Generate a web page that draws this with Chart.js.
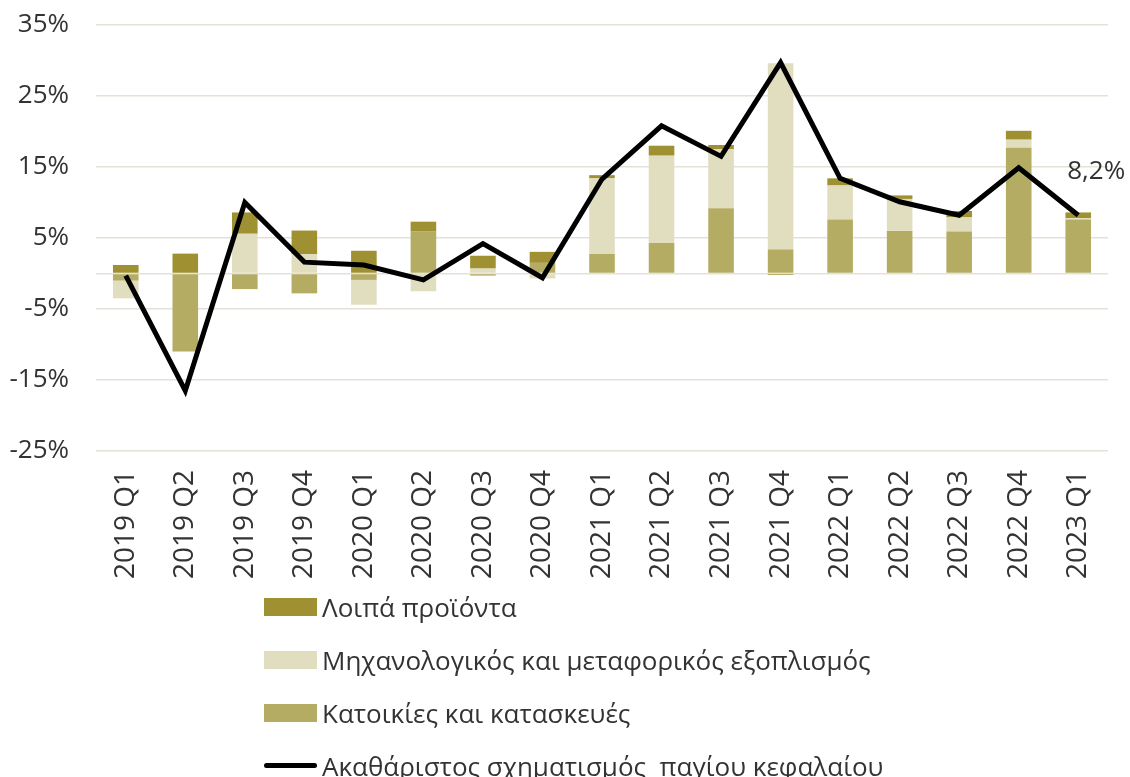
<!DOCTYPE html>
<html>
<head>
<meta charset="utf-8">
<script src="https://cdn.jsdelivr.net/npm/chart.js@4/dist/chart.umd.min.js"></script>
<style>
  html, body { margin: 0; padding: 0; background: #fff; }
  #wrap { position: relative; width: 1130px; height: 777px; }
  #legend { position: absolute; left: 264px; top: 580px; font-family: "Open Sans", sans-serif; font-size: 26px; color: #333; }
  #legend .item { display: flex; align-items: center; height: 53px; }
  #legend .sw { width: 53px; margin-right: 5px; }
</style>
</head>
<body>
<div id="wrap">
  <canvas id="chart" width="1130" height="777"></canvas>
  <div id="legend"></div>
</div>
<script>
  // quarters on the x axis
  var quarters = [
    '2019 Q1', '2019 Q2', '2019 Q3', '2019 Q4',
    '2020 Q1', '2020 Q2', '2020 Q3', '2020 Q4',
    '2021 Q1', '2021 Q2', '2021 Q3', '2021 Q4',
    '2022 Q1', '2022 Q2', '2022 Q3', '2022 Q4',
    '2023 Q1'
  ];
  // contributions, percentage points
  var housing = [-1.0, -11.0, -2.2, -2.8, -0.9, 5.9, -0.3, 1.5, 2.75, 4.3, 9.2, 3.4, 7.6, 6.0, 5.9, 17.7, 7.6];
  var machinery = [-2.5, 0, 5.6, 2.75, -3.5, -2.5, 0.7, -0.7, 10.7, 12.3, 8.3, 26.2, 4.8, 4.5, 2.0, 1.15, 0.2];
  var otherProducts = [1.2, 2.8, 3.0, 3.3, 3.2, 1.4, 1.8, 1.55, 0.4, 1.4, 0.6, -0.2, 1.0, 0.5, 0.9, 1.25, 0.8];
  // gross fixed capital formation, % y/y
  var gfcf = [-0.3, -16.5, 10.0, 1.6, 1.2, -0.9, 4.2, -0.6, 13.3, 20.8, 16.5, 29.7, 13.4, 10.1, 8.2, 14.9, 8.2];
  var yTicks = [-25, -15, -5, 0, 5, 15, 25, 35];
  var lastLabel = '8,2%';

  var COLORS = { other: '#9f9131', machinery: '#e1dec0', housing: '#b5ac63', line: '#000000', grid: '#e4e1d8', text: '#333333' };
  var FONT = '"Open Sans", sans-serif';

  var lastValueLabel = {
    id: 'lastValueLabel',
    afterDatasetsDraw: function (chart) {
      var meta = chart.getDatasetMeta(3);
      var pt = meta.data[meta.data.length - 1];
      var ctx = chart.ctx;
      ctx.save();
      ctx.font = '26px ' + FONT;
      ctx.fillStyle = COLORS.text;
      ctx.textAlign = 'center';
      ctx.textBaseline = 'middle';
      ctx.fillText(lastLabel, pt.x + 18, pt.y - 44);
      ctx.restore();
    }
  };

  var chart = new Chart(document.getElementById('chart').getContext('2d'), {
    type: 'bar',
    data: {
      labels: quarters,
      datasets: [
        { label: 'Κατοικίες και κατασκευές', data: housing, backgroundColor: COLORS.housing, order: 1, stack: 'gfcf' },
        { label: 'Μηχανολογικός και μεταφορικός εξοπλισμός', data: machinery, backgroundColor: COLORS.machinery, order: 1, stack: 'gfcf' },
        { label: 'Λοιπά προϊόντα', data: otherProducts, backgroundColor: COLORS.other, order: 1, stack: 'gfcf' },
        {
          type: 'line', label: 'Ακαθάριστος σχηματισμός  παγίου κεφαλαίου', data: gfcf,
          borderColor: COLORS.line, backgroundColor: COLORS.line, borderWidth: 5,
          pointRadius: 0, tension: 0, fill: false, order: 0, stack: 'line'
        }
      ]
    },
    options: {
      responsive: false,
      animation: false,
      events: [],
      layout: { padding: { top: 25, right: 22, bottom: 186, left: 0 } },
      datasets: { bar: { barPercentage: 0.43, categoryPercentage: 1 } },
      plugins: { legend: { display: false }, tooltip: { enabled: false } },
      scales: {
        x: {
          stacked: true,
          grid: { display: false },
          border: { display: false },
          afterFit: function (s) { s.height = 140; },
          ticks: { color: COLORS.text, font: { family: FONT, size: 28 }, minRotation: 90, maxRotation: 90, padding: 11, autoSkip: false }
        },
        y: {
          stacked: true,
          min: -25,
          max: 35,
          afterFit: function (s) { s.width = 96; s.paddingTop = 0; s.paddingBottom = 0; },
          afterBuildTicks: function (s) { s.ticks = yTicks.map(function (v) { return { value: v }; }); },
          grid: { color: COLORS.grid, lineWidth: 1.5, drawTicks: false },
          border: { display: false },
          ticks: {
            color: COLORS.text, font: { family: FONT, size: 26 }, padding: 27,
            callback: function (v) { return v === 0 ? '' : v + '%'; }
          }
        }
      }
    },
    plugins: [lastValueLabel]
  });

  // vertical legend, same order as the original
  var legend = document.getElementById('legend');
  [2, 1, 0, 3].forEach(function (i) {
    var ds = chart.data.datasets[i];
    var row = document.createElement('div');
    row.className = 'item';
    var sw = document.createElement('span');
    sw.className = 'sw';
    if (ds.type === 'line') {
      sw.style.height = '5px';
      sw.style.background = ds.borderColor;
      sw.style.borderRadius = '3px';
    } else {
      sw.style.height = '18px';
      sw.style.background = ds.backgroundColor;
    }
    var tx = document.createElement('span');
    tx.textContent = ds.label;
    tx.style.whiteSpace = 'pre';
    row.appendChild(sw);
    row.appendChild(tx);
    legend.appendChild(row);
  });
</script>
</body>
</html>
